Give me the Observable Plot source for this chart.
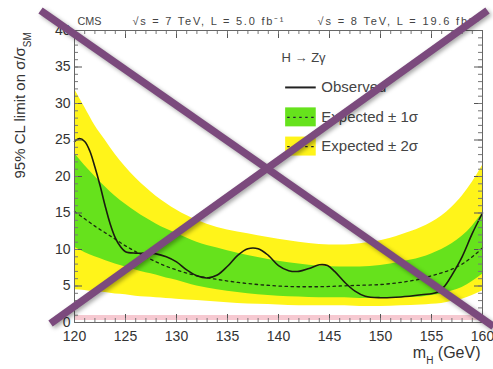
<!DOCTYPE html>
<html><head><meta charset="utf-8">
<script src="https://cdn.jsdelivr.net/npm/d3@7"></script>
<script src="https://cdn.jsdelivr.net/npm/@observablehq/plot@0.6"></script>
<style>
body{margin:0;background:#fff;}
#chart svg{font-family:"Liberation Sans",Arial,Helvetica,sans-serif;overflow:visible;}
.cross{filter:drop-shadow(2px 2px 2px rgba(0,0,0,0.35));}
</style>
</head><body><div id="chart"></div>
<script>
// ---- data ----
const massExp = [120,121,122,123,124,125,126,127,128,129,130,132,134,136,138,140,142,144,146,148,150,152,154,155,156,157,158,159,160];
const exp2Hi  = [32,29.5,27,25,23,21.3,19.8,18.5,17.3,16.3,15.4,14.0,13.0,12.4,11.9,11.4,11.0,10.7,10.6,10.8,11.2,12.0,13.0,13.7,14.6,15.8,17.3,19.2,21.5];
const exp1Hi  = [23.2,21.5,20,18.6,17.3,16.2,15.2,14.3,13.5,12.8,12.2,11.0,10.2,9.5,8.9,8.4,8.0,7.7,7.6,7.6,7.8,8.3,8.9,9.4,10.0,10.8,11.8,13.2,15.0];
const expMed  = [15.2,14.2,13.2,12.3,11.4,10.5,9.7,9.0,8.3,7.7,7.2,6.4,5.9,5.5,5.2,5.0,4.9,4.9,5.0,5.1,5.2,5.5,6.0,6.4,6.8,7.3,8.0,9.0,10.2];
const exp1Lo  = [10.3,9.6,9.0,8.5,8.0,7.6,7.2,6.8,6.5,6.1,5.8,5.0,4.5,4.1,3.8,3.6,3.5,3.4,3.4,3.3,3.3,3.4,3.5,3.7,3.9,4.3,4.8,5.6,6.6];
const exp2Lo  = [4.5,4.4,4.2,4.1,3.9,3.8,3.6,3.5,3.4,3.3,3.2,3.0,2.8,2.6,2.5,2.4,2.3,2.3,2.3,2.2,2.2,2.3,2.4,2.5,2.6,2.9,3.2,3.7,4.3];

const massObs  = [120,120.5,121,121.5,122,122.5,123,123.5,124,124.5,125,126,127,128,129,130,131,132,133,134,135,136,137,138,139,140,141,142,143,144,144.8,145.5,146.5,147.5,148.5,150,152,154,155.5,156.3,157,158,159,160];
const observed = [24.8,25.2,24.8,23.5,21.3,18.8,16.0,13.5,11.6,10.4,9.7,9.5,9.5,9.4,9.0,8.3,7.2,6.4,6.1,6.5,7.7,9.2,10.1,10.1,9.2,7.8,7.1,7.0,7.4,7.9,7.8,7.0,5.5,4.3,3.6,3.4,3.5,3.8,4.1,5.0,6.5,9.0,12.2,15.0];

const xTicks = [120,125,130,135,140,145,150,155,160];
const yTicks = [0,5,10,15,20,25,30,35,40];
const xMinor = d3.range(120,160.01,1);
const yMinor = d3.range(0,40.01,1);
const refLine = [0.7];

const titleParts = ["CMS","√s = 7 TeV, L = 5.0 fb⁻¹","√s = 8 TeV, L = 19.6 fb⁻¹"];
const legendTitle = "H → Zγ";
const legendLabels = ["Observed","Expected ± 1σ","Expected ± 2σ"];

// cross overlay endpoints (data units)
const crossX1 = [116.67,160.49];
const crossY1 = [42.74,42.74];
const crossX2 = [161.08,117.65];
const crossY2 = [-0.55,-0.14];

// legend anchor in data units
const legX = [140.7,143.7];
const legRowY = [32.2,28.1,24.1];
const legTitleY = [36.3];

const GREEN = "#66e21c", YELLOW = "#fff41a", PURPLE = "#7b4a7d";

const W = 493, H = 369, mL = 74, mR = 11, mT = 30, mB = 47;
const innerW = W - mL - mR, innerH = H - mT - mB;

const band = massExp.map((m,i)=>({m, y2h:exp2Hi[i], y1h:exp1Hi[i], med:expMed[i], y1l:exp1Lo[i], y2l:exp2Lo[i]}));
const obs = massObs.map((m,i)=>({m, v:observed[i]}));
const cross = crossX1.map((x,i)=>({x1:x, y1:crossY1[i], x2:crossX2[i], y2:crossY2[i]}));

const fontSize = 14;
const plot = Plot.plot({
  width: W, height: H,
  marginLeft: mL, marginRight: mR, marginTop: mT, marginBottom: mB,
  x: {domain:[120,160]},
  y: {domain:[0,40]},
  style: {fontFamily:'"Liberation Sans",Arial,sans-serif', color:"#333", background:"#fff"},
  marks: [
    Plot.areaY(band, {x:"m", y1:"y2l", y2:"y2h", fill:YELLOW, curve:"monotone-x"}),
    Plot.areaY(band, {x:"m", y1:"y1l", y2:"y1h", fill:GREEN, curve:"monotone-x"}),
    Plot.lineY(band, {x:"m", y:"med", stroke:"#1a2a10", strokeWidth:1.3, strokeDasharray:"2.5,3.5", curve:"monotone-x"}),
    Plot.lineY(obs, {x:"m", y:"v", stroke:"#1b1b10", strokeWidth:1.6, curve:"catmull-rom"}),
    Plot.ruleY(refLine, {stroke:"#f6c9d1", strokeWidth:5}),
    // inward ticks on all four sides
    Plot.tickX(xTicks, {x:d=>d, insetTop: innerH-8, stroke:"#555"}),
    Plot.tickX(xMinor, {x:d=>d, insetTop: innerH-4, stroke:"#777"}),
    Plot.tickX(xTicks, {x:d=>d, insetBottom: innerH-8, stroke:"#555"}),
    Plot.tickX(xMinor, {x:d=>d, insetBottom: innerH-4, stroke:"#777"}),
    Plot.tickY(yTicks, {y:d=>d, insetRight: innerW-8, stroke:"#555"}),
    Plot.tickY(yMinor, {y:d=>d, insetRight: innerW-4, stroke:"#777"}),
    Plot.tickY(yTicks, {y:d=>d, insetLeft: innerW-8, stroke:"#555"}),
    Plot.tickY(yMinor, {y:d=>d, insetLeft: innerW-4, stroke:"#777"}),
    Plot.frame({stroke:"#666", strokeWidth:1}),
    Plot.axisX(xTicks, {anchor:"bottom", tickSize:0, tickPadding:9, fontSize, label:null, fill:"#333"}),
    Plot.axisY(yTicks, {anchor:"left", tickSize:0, tickPadding:4, fontSize, label:null, fill:"#333"}),
    // axis titles
    Plot.text(["95% CL limit on σ/σ"], {frameAnchor:"left", dx:-54, dy:2, rotate:-90, fontSize:15, fill:"#333", className:"ylab"}),
    Plot.text(["m"], {frameAnchor:"bottom-right", dx:-2, dy:35, textAnchor:"end", fontSize:16, fill:"#333", className:"xlab"}),
    // header
    Plot.text([titleParts[0]], {frameAnchor:"top-left", dx:3, dy:-13, textAnchor:"start", fontSize:11, fill:"#444", className:"t0"}),
    Plot.text([titleParts[1]], {frameAnchor:"top-left", dx:58, dy:-13, textAnchor:"start", fontSize:11, fill:"#444", className:"t1"}),
    Plot.text([titleParts[2]], {frameAnchor:"top-left", dx:243, dy:-13, textAnchor:"start", fontSize:11, fill:"#444", className:"t2"}),
    // legend
    Plot.text([legendTitle], {x:legX[0]-0.4, y:legTitleY[0], textAnchor:"start", fontSize:13, fill:"#444"}),
    Plot.ruleY([legRowY[0]], {x1:legX[0], x2:legX[1], stroke:"#222", strokeWidth:2}),
    Plot.rect([0], {x1:legX[0], x2:legX[1], y1:legRowY[1]-1.3, y2:legRowY[1]+1.3, fill:GREEN}),
    Plot.rect([0], {x1:legX[0], x2:legX[1], y1:legRowY[2]-1.3, y2:legRowY[2]+1.3, fill:YELLOW}),
    Plot.ruleY([legRowY[1], legRowY[2]], {x1:legX[0]+0.2, x2:legX[1]-0.2, stroke:"#223", strokeWidth:1.3, strokeDasharray:"2.5,3.5"}),
    Plot.text(legendLabels, {x:legX[1]+0.5, y:(d,i)=>legRowY[i], textAnchor:"start", fontSize:15, fill:"#444"}),
    // cross overlay
    Plot.link(cross, {x1:"x1", y1:"y1", x2:"x2", y2:"y2", stroke:PURPLE, strokeWidth:7.5, strokeLinecap:"butt", clip:false, className:"cross"})
  ]
});
document.getElementById("chart").append(plot);

// subscripts / text widths
const svg = d3.select(plot);
svg.select(".ylab text").append("tspan").attr("baseline-shift","sub").attr("font-size","10").text("SM");
const xl = svg.select(".xlab text");
xl.append("tspan").attr("baseline-shift","sub").attr("font-size","10").text("H");
xl.append("tspan").attr("baseline-shift","0").text(" (GeV)");
svg.select(".t0 text").attr("textLength",24).attr("lengthAdjust","spacingAndGlyphs");
svg.select(".t1 text").attr("textLength",151).attr("lengthAdjust","spacing");
svg.select(".t2 text").attr("textLength",161).attr("lengthAdjust","spacing");
</script>
</body></html>
